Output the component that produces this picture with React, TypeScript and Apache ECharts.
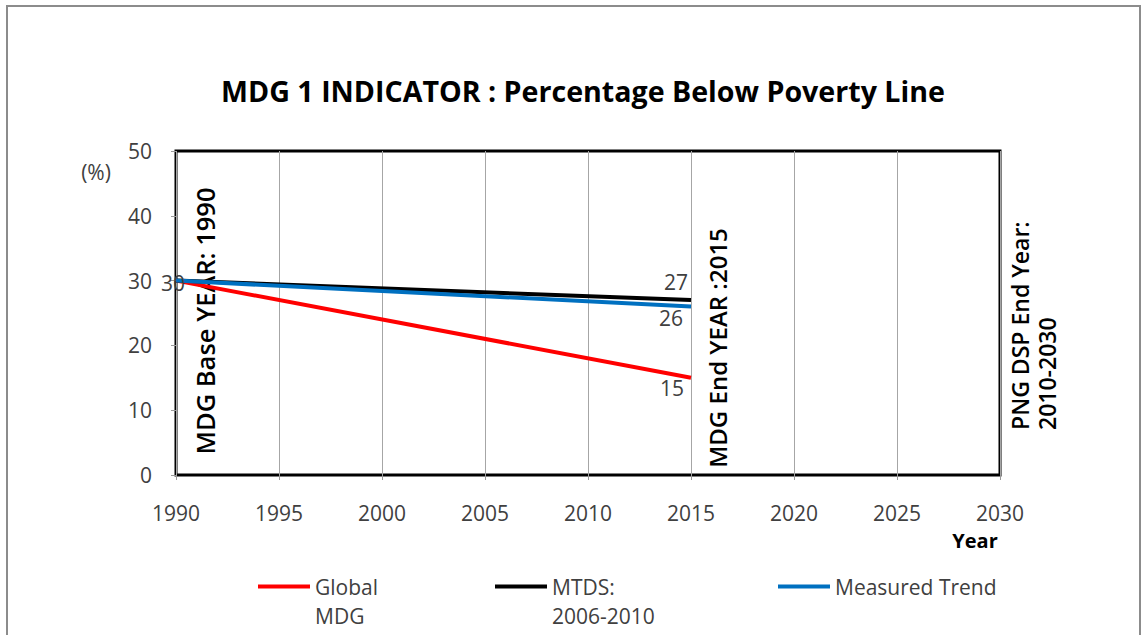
import React, { useEffect, useRef } from "react";
import * as echarts from "echarts";

const years = [1990, 2015];
const globalMDG = [30, 15];
const mtds = [30, 27];
const measuredTrend = [30, 26];
const seriesNames = ["Global MDG", "MTDS: 2006-2010", "Measured Trend"];
const legendLabels = ["Global\nMDG", "MTDS:\n2006-2010", "Measured Trend"];
const seriesColors = ["#ff0000", "#000000", "#0070c0"];
const xMin = 1990;
const xMax = 2030;
const xStep = 5;
const yMin = 0;
const yMax = 50;
const yStep = 10;

const FONT = "'Open Sans', sans-serif";
const TXT = "#404040";

function buildData(values: number[], startLabel: boolean, endPos: string, endOffset: number[]) {
  return values.map((v, i) => {
    const item: any = { value: [years[i], v] };
    if (i === 0 && startLabel) {
      item.label = { show: true, position: "left", offset: [14, 2] };
    } else if (i === values.length - 1) {
      item.label = { show: true, position: endPos, offset: endOffset };
    }
    return item;
  });
}

export default function App() {
  const ref = useRef<HTMLDivElement>(null);
  useEffect(() => {
    document.body.style.margin = "0";
    const chart = echarts.init(ref.current!, null, { renderer: "svg" });
    const values = [globalMDG, mtds, measuredTrend];
    const endPositions = ["bottom", "top", "bottom"];
    const endOffsets = [[-19, -5], [-15, -3], [-20, -4]];
    const legendLefts = [258, 495, 778];
    const option: any = {
      animation: false,
      textStyle: { fontFamily: FONT },
      grid: {
        left: 176,
        right: 148,
        top: 151,
        bottom: 160,
        show: true,
        borderColor: "#000",
        borderWidth: 3,
        backgroundColor: "transparent",
      },
      xAxis: {
        type: "value",
        min: xMin,
        max: xMax,
        interval: xStep,
        axisLine: { show: false },
        axisTick: { show: true, length: 5, lineStyle: { color: "#999" } },
        axisLabel: { color: TXT, fontSize: 21, margin: 27, fontFamily: FONT, formatter: (v: number) => String(v) },
        splitLine: { show: true, lineStyle: { color: "#a6a6a6", width: 1 } },
      },
      yAxis: {
        type: "value",
        min: yMin,
        max: yMax,
        interval: yStep,
        axisLine: { show: false },
        axisTick: { show: true, length: 5, lineStyle: { color: "#999" } },
        axisLabel: { color: TXT, fontSize: 21, margin: 24, fontFamily: FONT },
        splitLine: { show: false },
      },
      legend: seriesNames.map((name, i) => {
        const multi = legendLabels[i].includes("\n");
        return {
          data: [name],
          left: legendLefts[i],
          top: multi ? 543 : 572,
          padding: 0,
          itemWidth: 52,
          itemHeight: 4,
          itemGap: 0,
          icon: "rect",
          formatter: () => (multi ? "\n" + legendLabels[i] : legendLabels[i]),
          textStyle: {
            color: TXT,
            fontSize: 21,
            fontFamily: FONT,
            lineHeight: 29,
          },
        };
      }),
      series: seriesNames.map((name, i) => ({
        name,
        type: "line",
        symbol: "circle",
        symbolSize: 0,
        showSymbol: true,
        color: seriesColors[i],
        itemStyle: { color: seriesColors[i] },
        lineStyle: { width: 4, color: seriesColors[i] },
        label: { show: false, color: TXT, fontSize: 21, fontFamily: FONT },
        data: buildData(values[i], i === 2, endPositions[i], endOffsets[i]),
      })),
      graphic: [
        {
          type: "rect",
          shape: { x: 7, y: 6, width: 1133, height: 660 },
          style: { fill: "none", stroke: "#8c8c8c", lineWidth: 2 },
          silent: true,
        },
        {
          type: "text",
          x: 583,
          y: 90,
          style: {
            text: "MDG 1 INDICATOR : Percentage Below Poverty Line",
            font: `bold 28.6px ${FONT}`,
            fill: "#000",
            align: "center",
            verticalAlign: "middle",
          },
        },
        {
          type: "text",
          x: 96,
          y: 172,
          style: { text: "(%)", font: `21px ${FONT}`, fill: TXT, align: "center", verticalAlign: "middle" },
        },
        {
          type: "text",
          x: 975,
          y: 540,
          style: { text: "Year", font: `bold 20px ${FONT}`, fill: "#000", align: "center", verticalAlign: "middle" },
        },
        {
          type: "text",
          x: 205,
          y: 321,
          rotation: Math.PI / 2,
          style: { text: "MDG Base YEAR: 1990", font: `600 25.5px ${FONT}`, fill: "#000", align: "center", verticalAlign: "middle" },
        },
        {
          type: "text",
          x: 717,
          y: 348,
          rotation: Math.PI / 2,
          style: { text: "MDG End YEAR :2015", font: `600 24px ${FONT}`, fill: "#000", align: "center", verticalAlign: "middle" },
        },
        {
          type: "text",
          x: 1033,
          y: 430,
          rotation: Math.PI / 2,
          style: {
            text: "PNG DSP End Year:\n2010-2030",
            font: `600 23px ${FONT}`,
            lineHeight: 27,
            fill: "#000",
            align: "left",
            verticalAlign: "middle",
          },
        },
      ],
    };
    chart.setOption(option);
    return () => chart.dispose();
  }, []);
  return <div ref={ref} style={{ width: 1148, height: 635 }} />;
}
